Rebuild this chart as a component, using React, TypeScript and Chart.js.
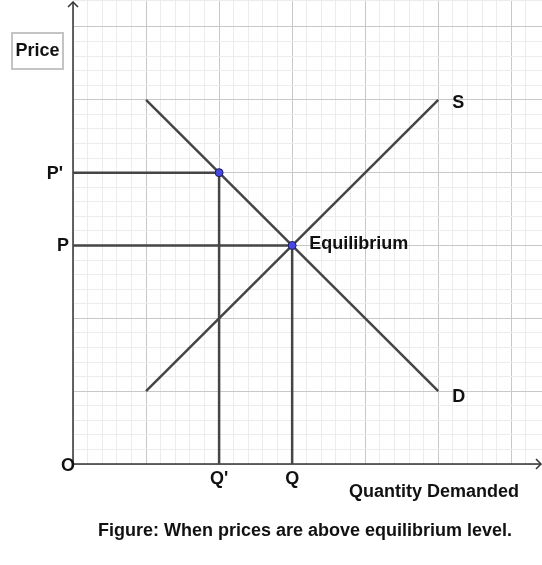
import React, { useEffect, useRef } from "react";
import { Chart, registerables } from "chart.js";

Chart.register(...registerables);

// Data (in grid units, one major grid cell = 1 unit)
const demandCurve = [
  { x: 1, y: 5 },
  { x: 5, y: 1 },
];
const supplyCurve = [
  { x: 1, y: 1 },
  { x: 5, y: 5 },
];
const priceAboveLine = [
  { x: 0, y: 4 },
  { x: 2, y: 4 },
  { x: 2, y: 0 },
];
const equilibriumLine = [
  { x: 0, y: 3 },
  { x: 3, y: 3 },
  { x: 3, y: 0 },
];
const markedPoints = [
  { x: 2, y: 4 },
  { x: 3, y: 3 },
];
const priceTicks = [
  { label: "P'", value: 4 },
  { label: "P", value: 3 },
];
const quantityTicks = [
  { label: "Q'", value: 2 },
  { label: "Q", value: 3 },
];
const curveLabels = [
  { label: "S", x: 5, y: 5 },
  { label: "D", x: 5, y: 1 },
];
const equilibriumLabel = { label: "Equilibrium", x: 3, y: 3 };
const yAxisTitle = "Price";
const xAxisTitle = "Quantity Demanded";
const caption = "Figure: When prices are above equilibrium level.";

const FONT = "bold 18px 'Liberation Sans', Arial, sans-serif";
const LINE_COLOR = "#454545";

const annotationPlugin = {
  id: "econAnnotations",
  beforeDatasetsDraw(chart: any) {
    const { ctx, scales } = chart;
    const xs = scales.x;
    const ys = scales.y;
    const ox = xs.getPixelForValue(0);
    const oy = ys.getPixelForValue(0);
    ctx.save();
    ctx.strokeStyle = "#333";
    ctx.lineWidth = 1.5;
    // y axis
    ctx.beginPath();
    ctx.moveTo(ox, oy);
    ctx.lineTo(ox, 2);
    ctx.stroke();
    ctx.beginPath();
    ctx.moveTo(ox - 5, 7);
    ctx.lineTo(ox, 2);
    ctx.lineTo(ox + 5, 7);
    ctx.stroke();
    // x axis
    const right = chart.width - 1;
    ctx.beginPath();
    ctx.moveTo(ox, oy);
    ctx.lineTo(right, oy);
    ctx.stroke();
    ctx.beginPath();
    ctx.moveTo(right - 5, oy - 5);
    ctx.lineTo(right, oy);
    ctx.lineTo(right - 5, oy + 5);
    ctx.stroke();
    ctx.restore();
  },
  afterDraw(chart: any) {
    const { ctx, scales } = chart;
    const xs = scales.x;
    const ys = scales.y;
    const ox = xs.getPixelForValue(0);
    const oy = ys.getPixelForValue(0);
    ctx.save();
    ctx.font = FONT;
    ctx.fillStyle = "#111";
    ctx.textBaseline = "middle";

    // price tick labels
    ctx.textAlign = "right";
    priceTicks.forEach((t) => {
      const gap = t.label.length > 1 ? 10 : 4;
      ctx.fillText(t.label, ox - gap, ys.getPixelForValue(t.value) + 1);
    });
    // origin
    ctx.textAlign = "center";
    ctx.fillText("O", ox - 5, oy + 2);
    // quantity tick labels
    quantityTicks.forEach((t) => {
      ctx.fillText(t.label, xs.getPixelForValue(t.value), oy + 15);
    });
    // curve labels
    ctx.textAlign = "left";
    curveLabels.forEach((c) => {
      ctx.fillText(c.label, xs.getPixelForValue(c.x) + 14, ys.getPixelForValue(c.y) + (c.label === "D" ? 6 : 3));
    });
    ctx.fillText(
      equilibriumLabel.label,
      xs.getPixelForValue(equilibriumLabel.x) + 17,
      ys.getPixelForValue(equilibriumLabel.y) - 1
    );
    // x axis title
    ctx.textAlign = "center";
    ctx.fillText(xAxisTitle, 434, oy + 28);
    // caption
    ctx.fillText(caption, 305, 531);
    // price box
    ctx.fillStyle = "#fff";
    ctx.fillRect(12, 33, 51, 36);
    ctx.strokeStyle = "#c4c4c4";
    ctx.lineWidth = 2;
    ctx.strokeRect(12, 33, 51, 36);
    ctx.fillStyle = "#111";
    ctx.fillText(yAxisTitle, 37.5, 51);
    ctx.restore();
  },
};

const gridColor = (c: any) => {
  const v = c.tick ? c.tick.value : 0;
  return Math.abs(v - Math.round(v)) < 1e-6 ? "#c8c8c8" : "#ececec";
};

export default function App() {
  const ref = useRef<HTMLCanvasElement | null>(null);
  useEffect(() => {
    if (!ref.current) return;
    const segStyle = {
      type: "line" as const,
      borderColor: LINE_COLOR,
      borderWidth: 2.5,
      pointRadius: 0,
      fill: false,
      tension: 0,
      order: 1,
    };
    const chart = new Chart(ref.current, {
      type: "line",
      data: {
        datasets: [
          { ...segStyle, label: "D", data: demandCurve },
          { ...segStyle, label: "S", data: supplyCurve },
          { ...segStyle, label: "P'", data: priceAboveLine },
          { ...segStyle, label: "P", data: equilibriumLine },
          {
            type: "scatter" as const,
            label: "points",
            data: markedPoints,
            pointRadius: 4,
            pointBackgroundColor: "#4848e0",
            pointBorderColor: "#1c1c60",
            pointBorderWidth: 1,
            showLine: false,
            order: -1,
          } as any,
        ],
      },
      options: {
        responsive: false,
        animation: false,
        events: [],
        layout: { autoPadding: false, padding: { left: 73, right: 0, top: 0, bottom: 101 } },
        plugins: {
          legend: { display: false },
          tooltip: { enabled: false },
          title: { display: false },
        },
        scales: {
          x: {
            type: "linear",
            min: 0,
            max: 6.42,
            border: { display: false },
            ticks: { display: false, stepSize: 0.2 },
            grid: { color: gridColor, lineWidth: 1, drawTicks: false },
            afterFit: (s: any) => {
              s.height = 0;
            },
          },
          y: {
            type: "linear",
            min: 0,
            max: 6.37,
            border: { display: false },
            ticks: { display: false, stepSize: 0.2 },
            grid: { color: gridColor, lineWidth: 1, drawTicks: false },
            afterFit: (s: any) => {
              s.width = 0;
            },
          },
        },
      },
      plugins: [annotationPlugin],
    } as any);
    return () => chart.destroy();
  }, []);
  return (
    <div style={{ position: "absolute", left: 0, top: 0, width: 542, height: 565, background: "#fff" }}>
      <canvas ref={ref} width={542} height={565} />
    </div>
  );
}
